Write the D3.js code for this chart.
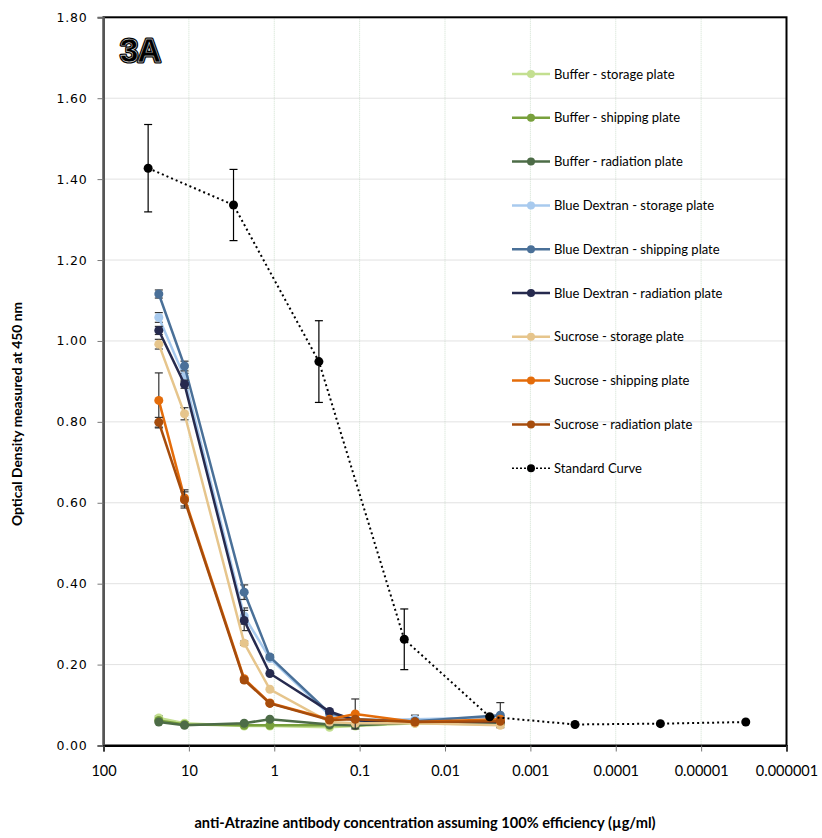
<!DOCTYPE html>
<html><head><meta charset="utf-8">
<script src="https://cdn.jsdelivr.net/npm/d3@7"></script>
<style>
body{margin:0;background:#fff;}
svg{display:block;}
</style></head>
<body><svg id="c" width="822" height="838"></svg>
<script>
// ---- data ----
const sampleConc = [22.5, 11.25, 2.25, 1.125, 0.225, 0.1125, 0.0225, 0.00225];
const stdConc = [30, 3, 0.3, 0.03, 0.003, 0.0003, 0.00003, 0.000003];
const seriesNames = ["Buffer - storage plate","Buffer - shipping plate","Buffer - radiation plate",
  "Blue Dextran - storage plate","Blue Dextran - shipping plate","Blue Dextran - radiation plate",
  "Sucrose - storage plate","Sucrose - shipping plate","Sucrose - radiation plate","Standard Curve"];
const seriesColors = ["#c3df90","#78a03c","#4d6c47","#a8caee","#4a7098","#262a4e","#e6c58c","#e46c0a","#a64c0c","#000000"];
const bufStor = [0.068, 0.055, 0.048, 0.048, 0.045, 0.048, 0.055, 0.052];
const bufShip = [0.062, 0.052, 0.050, 0.050, 0.050, 0.050, 0.057, 0.055];
const bufRad  = [0.058, 0.050, 0.055, 0.065, 0.052, 0.050, 0.057, 0.055];
const bdStor  = [1.058, 0.910, 0.320, 0.215, 0.075, 0.062, 0.065, 0.070];
const bdShip  = [1.116, 0.938, 0.379, 0.219, 0.080, 0.065, 0.060, 0.075];
const bdRad   = [1.026, 0.893, 0.309, 0.178, 0.084, 0.062, 0.058, 0.058];
const sucStor = [0.992, 0.820, 0.253, 0.139, 0.058, 0.055, 0.055, 0.050];
const sucShip = [0.853, 0.612, 0.165, 0.105, 0.065, 0.078, 0.058, 0.065];
const sucRad  = [0.799, 0.607, 0.162, 0.104, 0.063, 0.065, 0.058, 0.060];
const stdCurve = [1.427, 1.336, 0.949, 0.2625, 0.071, 0.052, 0.054, 0.058];
// error bar half-widths
const bufStorErr = [0.005,0.004,0,0,0,0,0,0];
const bufShipErr = [0,0,0,0,0,0,0,0];
const bufRadErr  = [0,0,0,0,0,0,0,0];
const bdStorErr  = [0.012,0.01,0.02,0,0,0,0.01,0];
const bdShipErr  = [0.01,0.012,0.018,0.005,0,0,0,0.031];
const bdRadErr   = [0.01,0.01,0.025,0,0,0,0,0];
const sucStorErr = [0.012,0.015,0.005,0,0,0,0,0];
const sucShipErr = [0.068,0.02,0,0,0,0.037,0,0];
const sucRadErr  = [0.012,0.02,0.005,0,0,0,0,0];
const stdErr     = [0.108, 0.088, 0.101, 0.075, 0, 0, 0, 0];
const xTicks = [100, 10, 1, 0.1, 0.01, 0.001, 0.0001, 0.00001, 0.000001];
const xTickLabels = ["100","10","1","0.1","0.01","0.001","0.0001","0.00001","0.000001"];
const yTicks = [0, 0.2, 0.4, 0.6, 0.8, 1.0, 1.2, 1.4, 1.6, 1.8];

const seriesVals = [bufStor,bufShip,bufRad,bdStor,bdShip,bdRad,sucStor,sucShip,sucRad,stdCurve];
const seriesErrs = [bufStorErr,bufShipErr,bufRadErr,bdStorErr,bdShipErr,bdRadErr,sucStorErr,sucShipErr,sucRadErr,stdErr];

// ---- chart ----
const svg = d3.select("#c");
const x = d3.scaleLog().domain([100, 1e-6]).range([103.5, 786.5]);
const y = d3.scaleLinear().domain([0, 1.8]).range([745.5, 17.3]);
const cal = "Lato,'Open Sans',sans-serif";

// grid
svg.append("g").selectAll("line").data(xTicks.slice(1,-1)).join("line")
  .attr("x1", d=>x(d)).attr("x2", d=>x(d)).attr("y1", y(1.8)).attr("y2", y(0))
  .attr("stroke","#cfe0cf").attr("stroke-width",1).attr("stroke-dasharray","1,1");
svg.append("g").selectAll("line").data(yTicks.slice(1,-1)).join("line")
  .attr("x1", x(100)).attr("x2", x(1e-6)).attr("y1", d=>y(d)).attr("y2", d=>y(d))
  .attr("stroke","#c4c4c4").attr("stroke-width",1).attr("stroke-dasharray","1,1");

// frame
svg.append("rect").attr("x", x(100)).attr("y", y(1.8)).attr("width", x(1e-6)-x(100)).attr("height", y(0)-y(1.8))
  .attr("fill","none").attr("stroke","#000").attr("stroke-width",2);

// axes
const yAxis = d3.axisLeft(y).tickValues(yTicks).tickFormat(d3.format(".2f")).tickSize(6).tickPadding(10);
const gy = svg.append("g").attr("transform",`translate(${x(100)},0)`).call(yAxis);
gy.select(".domain").attr("stroke","#555").attr("stroke-width",2);
gy.selectAll(".tick line").attr("stroke","#777");
gy.selectAll("text").attr("font-family","'DejaVu Sans',Verdana,sans-serif").attr("font-size",12.5)
  .attr("letter-spacing",0.8).attr("fill","#000");

const xAxis = d3.axisBottom(x).tickValues(xTicks).tickFormat((d,i)=>xTickLabels[i]).tickSize(6).tickPadding(14);
const gx = svg.append("g").attr("transform",`translate(0,${y(0)})`).call(xAxis);
gx.select(".domain").attr("stroke","#000").attr("stroke-width",2);
gx.selectAll(".tick line").attr("stroke","#777");
gx.selectAll("text").attr("font-family",cal).attr("font-size",14.5).attr("fill","#000");

// axis titles
svg.append("text").attr("x",425).attr("y",828).attr("text-anchor","middle")
  .attr("font-family",cal).attr("font-weight","bold").attr("font-size",14.6)
  .text("anti-Atrazine antibody concentration assuming 100% efficiency (µg/ml)");
svg.append("text").attr("transform","translate(22,414) rotate(-90)").attr("text-anchor","middle")
  .attr("font-family",cal).attr("font-weight","bold").attr("font-size",13.8)
  .text("Optical Density measured at 450 nm");

// series
const line = d3.line().x(d=>x(d[0])).y(d=>y(d[1]));
seriesVals.forEach((vals,i)=>{
  const isStd = i===9;
  const xs = isStd ? stdConc : sampleConc;
  const pts = vals.map((v,j)=>[xs[j], v, seriesErrs[i][j]]);
  const g = svg.append("g");
  const eb = pts.filter(p=>p[2]>0);
  const ec = isStd ? "#000" : "#333";
  g.selectAll("line.e").data(eb).join("line").attr("class","e")
    .attr("x1",d=>x(d[0])).attr("x2",d=>x(d[0])).attr("y1",d=>y(d[1]+d[2])).attr("y2",d=>y(d[1]-d[2]))
    .attr("stroke",ec).attr("stroke-width",1.2);
  g.selectAll("line.t").data(eb).join("line").attr("class","t")
    .attr("x1",d=>x(d[0])-4).attr("x2",d=>x(d[0])+4).attr("y1",d=>y(d[1]+d[2])).attr("y2",d=>y(d[1]+d[2]))
    .attr("stroke",ec).attr("stroke-width",1.2);
  g.selectAll("line.b").data(eb).join("line").attr("class","b")
    .attr("x1",d=>x(d[0])-4).attr("x2",d=>x(d[0])+4).attr("y1",d=>y(d[1]-d[2])).attr("y2",d=>y(d[1]-d[2]))
    .attr("stroke",ec).attr("stroke-width",1.2);
  g.append("path").datum(pts).attr("d",line).attr("fill","none")
    .attr("stroke",seriesColors[i]).attr("stroke-width", isStd?2:2.5)
    .attr("stroke-dasharray", isStd?"2,3":null);
  g.selectAll("circle").data(pts).join("circle")
    .attr("cx",d=>x(d[0])).attr("cy",d=>y(d[1])).attr("r",4.5).attr("fill",seriesColors[i]);
});

// legend
const lg = svg.append("g");
seriesNames.forEach((n,i)=>{
  const yy = 74 + i*43.8;
  lg.append("line").attr("x1",512).attr("x2",550).attr("y1",yy).attr("y2",yy)
    .attr("stroke",seriesColors[i]).attr("stroke-width",i===9?1.5:2.5).attr("stroke-dasharray",i===9?"2,2":null);
  lg.append("circle").attr("cx",531).attr("cy",yy).attr("r",4).attr("fill",seriesColors[i]);
  lg.append("text").attr("x",554).attr("y",yy+4.5).attr("font-family",cal).attr("font-size",13).attr("fill","#000").text(n);
});

// panel label (outlined look)
const lbl = svg.append("g");
lbl.append("text").attr("x",120).attr("y",62).attr("font-family","'Liberation Sans',Arial,sans-serif")
  .attr("font-weight","bold").attr("font-size",33).attr("fill","#000").attr("stroke","#000").attr("stroke-width",3)
  .attr("stroke-linejoin","round").attr("letter-spacing",-1).text("3A");
lbl.append("text").attr("x",120).attr("y",62).attr("font-family","'Liberation Sans',Arial,sans-serif")
  .attr("font-weight","bold").attr("font-size",33).attr("fill","#000").attr("stroke","#fff").attr("stroke-width",0.45)
  .attr("letter-spacing",-1).text("3A");
</script></body></html>
